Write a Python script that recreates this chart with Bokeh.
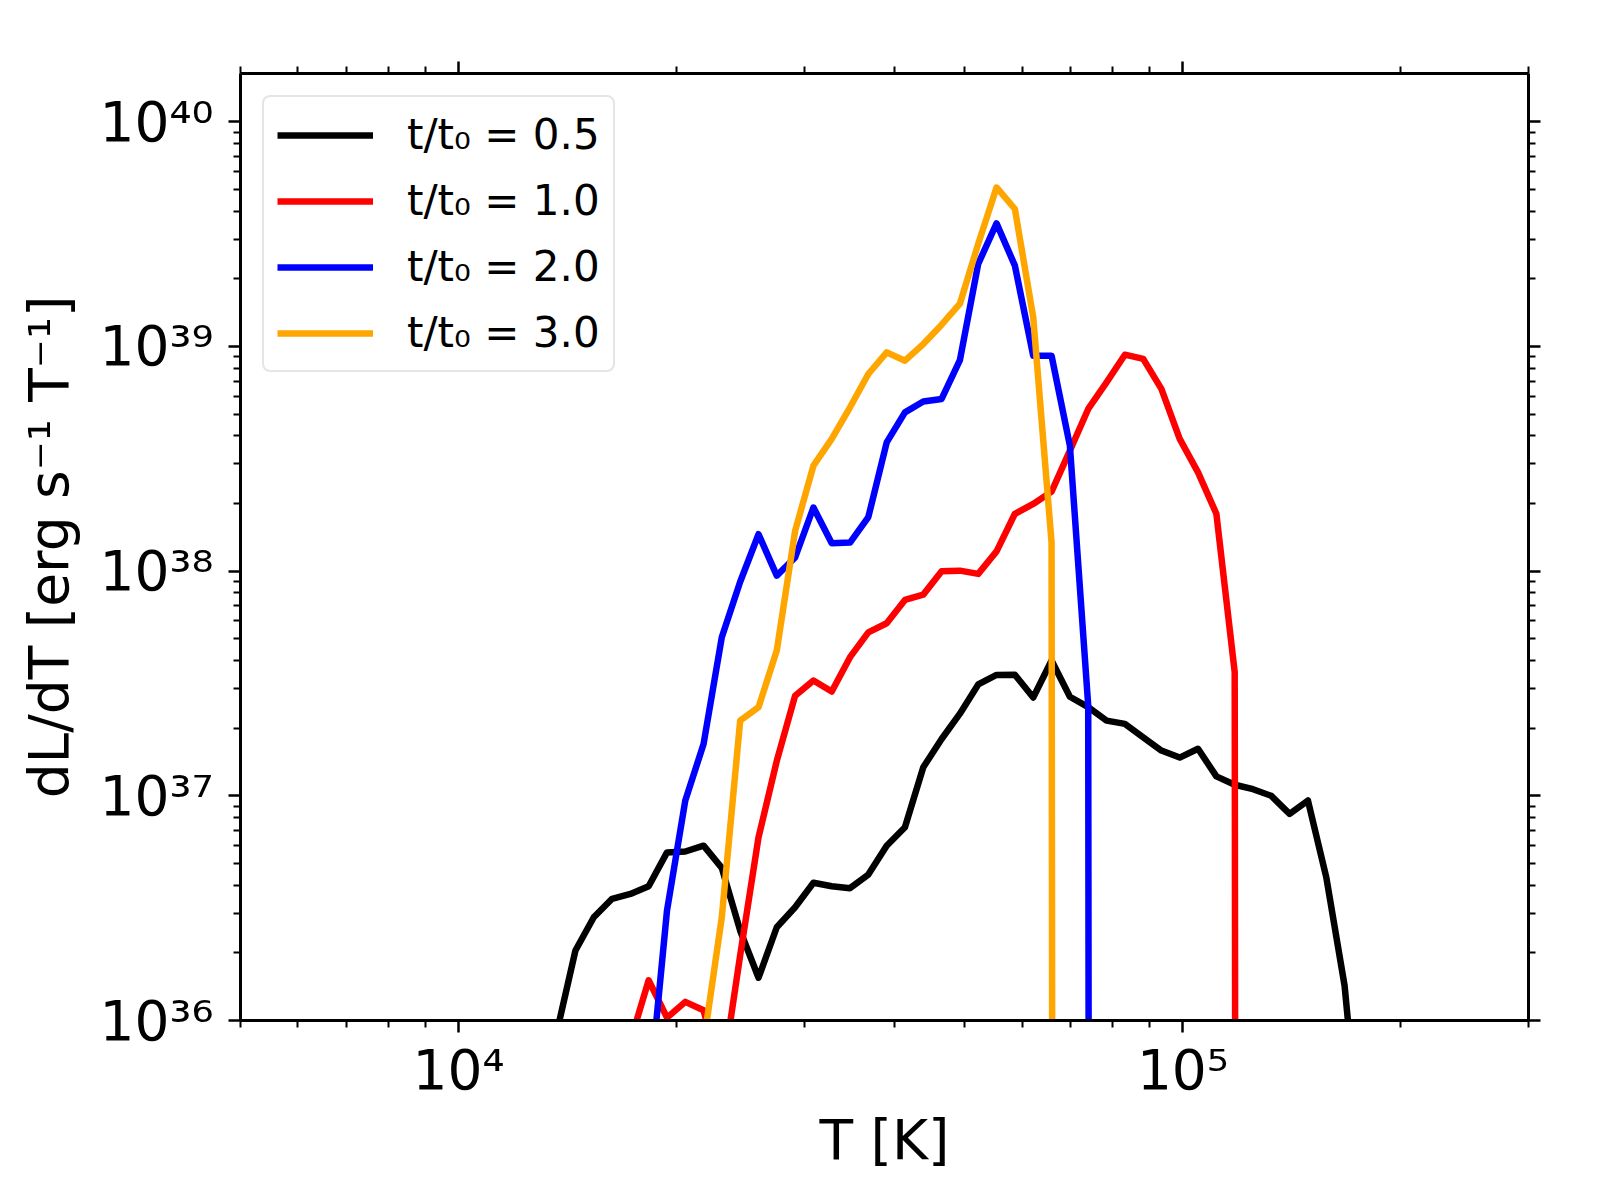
import math
from bokeh.plotting import figure
from bokeh.models import Range1d, FixedTicker, CustomJSTickFormatter, LogAxis, Legend
from bokeh.embed import file_html
from bokeh.resources import INLINE

NAN = float("nan")

# temperature bins [K]
temperature_K = [13680, 14500, 15370, 16290, 17270, 18300, 19400, 20560, 21790, 23090,
                 24480, 25950, 27500, 29150, 30900, 32750, 34710, 36790, 39000, 41330,
                 43810, 46440, 49220, 52170, 55300, 58620, 62140, 65870, 69820, 74010,
                 78450, 83160, 88150, 93390, 98990, 104930, 111230, 117900, 124970, 132430,
                 140380, 148800, 157740, 167190, 177220]

# dL/dT [erg s^-1 T^-1] for each snapshot (NaN = no data, 0 = empty bin)
dLdT_t05 = [9.0e35, 2.05e36, 2.88e36, 3.48e36, 3.66e36, 3.96e36, 5.6e36, 5.65e36, 6.0e36, 4.78e36,
            2.51e36, 1.55e36, 2.60e36, 3.19e36, 4.10e36, 3.96e36, 3.88e36, 4.46e36, 6.0e36, 7.25e36,
            1.34e37, 1.79e37, 2.32e37, 3.13e37, 3.45e37, 3.46e37, 2.74e37, 4.0e37, 2.76e37, 2.48e37,
            2.16e37, 2.09e37, 1.82e37, 1.59e37, 1.48e37, 1.62e37, 1.22e37, 1.12e37, 1.07e37, 1.00e37,
            8.31e36, 9.53e36, 4.34e36, 1.43e36, 2.0e35]

dLdT_t10 = [NAN, NAN, NAN, NAN, 8.1e35, 1.51e36, 1.03e36, 1.21e36, 1.11e36, 5.5e35,
            1.95e36, 6.54e36, 1.43e37, 2.79e37, 3.26e37, 2.91e37, 4.14e37, 5.34e37, 5.86e37, 7.44e37,
            7.86e37, 9.98e37, 1.005e38, 9.72e37, 1.225e38, 1.80e38, 1.99e38, 2.26e38, 3.44e38, 5.27e38,
            6.92e38, 9.19e38, 8.80e38, 6.47e38, 3.88e38, 2.75e38, 1.80e38, 3.55e37, 0.0, NAN,
            NAN, NAN, NAN, NAN, NAN]

dLdT_t20 = [NAN, NAN, NAN, NAN, NAN, 4.4e35, 3.09e36, 9.53e36, 1.70e37, 5.08e37,
            8.97e37, 1.46e38, 9.55e37, 1.15e38, 1.92e38, 1.33e38, 1.34e38, 1.74e38, 3.74e38, 5.09e38,
            5.69e38, 5.84e38, 8.70e38, 2.33e39, 3.53e39, 2.29e39, 9.09e38, 9.09e38, 3.62e38, 2.52e37,
            0.0, NAN, NAN, NAN, NAN, NAN, NAN, NAN, NAN, NAN,
            NAN, NAN, NAN, NAN, NAN]

dLdT_t30 = [NAN, NAN, NAN, NAN, NAN, NAN, NAN, NAN, 7.9e35, 2.88e36,
            2.16e37, 2.48e37, 4.43e37, 1.51e38, 2.95e38, 3.88e38, 5.36e38, 7.54e38, 9.41e38, 8.64e38,
            1.025e39, 1.25e39, 1.55e39, 2.86e39, 5.10e39, 4.09e39, 1.35e39, 1.34e38, 0.0, NAN,
            NAN, NAN, NAN, NAN, NAN, NAN, NAN, NAN, NAN, NAN,
            NAN, NAN, NAN, NAN, NAN]

series_values = [dLdT_t05, dLdT_t10, dLdT_t20, dLdT_t30]
series_labels = ["t/t₀ = 0.5", "t/t₀ = 1.0", "t/t₀ = 2.0", "t/t₀ = 3.0"]
series_colors = ["#000000", "#ff0000", "#0000ff", "#ffa500"]

x_major_ticks = [1e4, 1e5]
x_minor_ticks = [5e3, 6e3, 7e3, 8e3, 9e3, 2e4, 3e4, 4e4, 5e4, 6e4, 7e4, 8e4, 9e4, 2e5, 3e5]
y_major_ticks = [1e36, 1e37, 1e38, 1e39, 1e40]
y_minor_ticks = [m * 10.0 ** e for e in range(36, 41) for m in range(2, 10)]

x_label = "T [K]"
y_label = "dL/dT [erg s⁻¹ T⁻¹]"

FONT = "DejaVu Sans"
# empty bins on a log axis are clipped to a tiny positive floor (like matplotlib)
FLOOR = 1e-30

p = figure(width=1584, height=1184,
           x_axis_type="log", y_axis_type="log",
           x_range=Range1d(5e3, 3e5), y_range=Range1d(1e36, 1.64e40),
           output_backend="svg", toolbar_location=None,
           min_border_left=240, min_border_right=56,
           min_border_top=73, min_border_bottom=164)
p.xgrid.visible = False
p.ygrid.visible = False
p.outline_line_color = None
p.background_fill_color = "white"
p.border_fill_color = "white"

sup_code = """
const sup = {"0":"⁰","1":"¹","2":"²","3":"³","4":"⁴","5":"⁵","6":"⁶","7":"⁷","8":"⁸","9":"⁹","-":"⁻"};
const e = Math.round(Math.log10(tick));
return "10" + String(e).split("").map(c => sup[c]).join("");
"""

def style_axis(ax, show_labels):
    ax.axis_line_width = 3
    ax.axis_line_color = "black"
    ax.major_tick_line_width = 2.5
    ax.minor_tick_line_width = 2
    ax.major_tick_out = 12
    ax.major_tick_in = 0
    ax.minor_tick_out = 7
    ax.minor_tick_in = 0
    ax.major_label_text_font = FONT
    ax.major_label_text_font_size = "55px"
    ax.major_label_text_color = "black"
    ax.axis_label_text_font = FONT
    ax.axis_label_text_font_size = "55px"
    ax.axis_label_text_font_style = "normal"
    ax.axis_label_text_color = "black"
    if show_labels:
        ax.formatter = CustomJSTickFormatter(code=sup_code)
    else:
        ax.formatter = CustomJSTickFormatter(code="return '';")

xax = p.xaxis[0]
yax = p.yaxis[0]
xax.ticker = FixedTicker(ticks=x_major_ticks, minor_ticks=x_minor_ticks)
yax.ticker = FixedTicker(ticks=y_major_ticks, minor_ticks=y_minor_ticks)
style_axis(xax, True)
style_axis(yax, True)
xax.axis_label = x_label
yax.axis_label = y_label
xax.major_label_standoff = 5
yax.major_label_standoff = 15
xax.axis_label_standoff = 3
yax.axis_label_standoff = 15

top = LogAxis(ticker=FixedTicker(ticks=x_major_ticks, minor_ticks=x_minor_ticks))
right = LogAxis(ticker=FixedTicker(ticks=y_major_ticks, minor_ticks=y_minor_ticks))
style_axis(top, False)
style_axis(right, False)
top.major_label_text_font_size = "1px"
right.major_label_text_font_size = "1px"
top.major_label_standoff = 0
right.major_label_standoff = 0
p.add_layout(top, "above")
p.add_layout(right, "right")

for vals, lab, col in zip(series_values, series_labels, series_colors):
    xs, ys = [], []
    for t, v in zip(temperature_K, vals):
        if v != v:  # NaN: no bin
            continue
        xs.append(t)
        ys.append(v if v > 0 else FLOOR)
    p.line(xs, ys, line_color=col, line_width=6.5, line_join="round", legend_label=lab)

leg = p.legend[0]
leg.location = "top_left"
leg.margin = 22
leg.padding = 13
leg.spacing = 17
leg.label_height = 46
leg.glyph_height = 46
leg.glyph_width = 96
leg.label_standoff = 34
leg.label_text_font = FONT
leg.label_text_font_size = "42px"
leg.label_text_color = "black"
leg.border_line_color = "#cccccc"
leg.border_line_width = 2.5
leg.background_fill_color = "white"
leg.background_fill_alpha = 0.8
if "border_radius" in Legend.properties():
    leg.border_radius = 8

open("out.html", "w").write(file_html(p, INLINE))
